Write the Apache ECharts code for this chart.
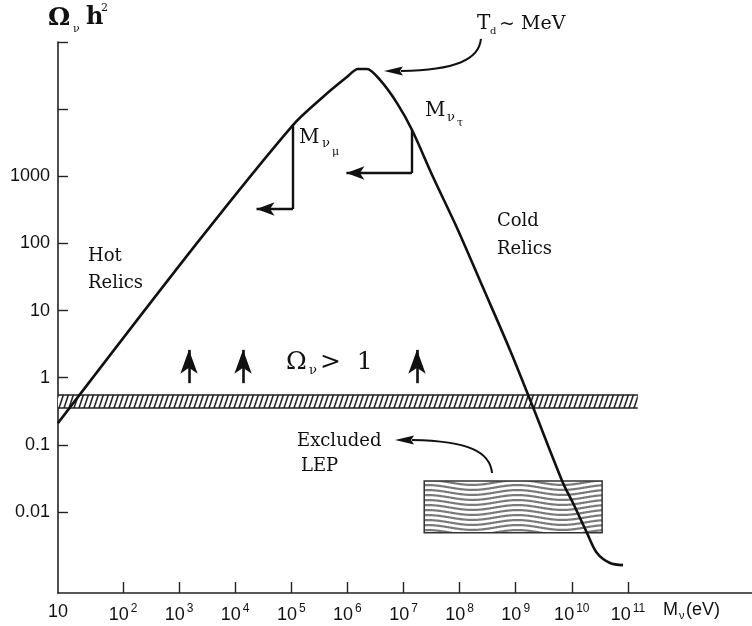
<!DOCTYPE html>
<html>
<head>
<meta charset="utf-8">
<script src="https://cdn.jsdelivr.net/npm/echarts@6/dist/echarts.min.js"></script>
<style>
  html, body { margin: 0; padding: 0; background: #fff; }
  #chart { width: 752px; height: 626px; }
</style>
</head>
<body>
<div id="chart"></div>
<script>
// Relic neutrino density Ω_ν h² against neutrino mass, both on log scales.

// Relic density curve: mass in eV and Ω h²
const massEV  = [6.9, 2.08e3, 1.07e5, 3.67e5, 9.8e5, 1.55e6, 2.23e6, 3.81e6, 7.66e6, 1.42e7,
                 3.36e7, 9.0e7, 2.61e8, 7.9e8, 2.03e9, 6.97e9, 1.05e10, 1.87e10, 2.81e10, 4.8e10, 8.2e10];
const omegaH2 = [0.21, 101, 5800, 1.52e4, 3.01e4, 3.96e4, 3.96e4, 2.72e4, 1.23e4, 4890,
                 975, 170, 22, 2.59, 0.366, 0.027, 0.0136, 0.00486, 0.00245, 0.00174, 0.00162];

// Axis ticks (decade exponents) and labels
const xTickExp    = [2, 3, 4, 5, 6, 7, 8, 9, 10, 11];
const xOriginText = '10';
const yTickExp    = [-2, -1, 0, 1, 2, 3, 4, 5];
const yLabelExp   = [-2, -1, 0, 1, 2, 3];
const yLabelText  = ['0.01', '0.1', '1', '10', '100', '1000'];

// Ω h² closure band and its mass extent
const closureBand   = [0.354, 0.56];
const closureMassHi = 1.5e11;

// "Ω_ν > 1" arrows: masses, foot and head of each arrow
const upArrowMass = [1.5e3, 1.38e4, 1.74e7];
const upArrowFrom = 0.83;
const upArrowTo   = 2.6;

// Mass bounds: point on the curve, corner level, arrow head mass
const numuBound  = { mass: 1.07e5, top: 5800, corner: 326,  head: 2.4e4 };
const nutauBound = { mass: 1.42e7, top: 4890, corner: 1120, head: 9.6e5 };

// LEP excluded region
const lepMass  = [2.34e7, 3.47e10];
const lepOmega = [0.0049, 0.029];

// Curved pointers: start, control 1, control 2, end of shaft, tip (mass, Ω h²)
const tdPointer  = [[2.40e8, 1.11e5], [2.22e8, 5.4e4], [8.3e7, 3.83e4], [9.0e6, 3.7e4], [4.49e6, 3.7e4]];
const lepPointer = [[3.79e8, 0.0381], [3.48e8, 0.078], [1.53e8, 0.114], [1.42e7, 0.118], [7.05e6, 0.118]];

const X_MIN = 0.8414, X_MAX = 13.212;
const Y_MIN = -3.206, Y_MAX = 5;

const L = Math.log10;
const pt = (m, o) => [L(m), L(o)];
const INK = '#111';
const SANS = '"Liberation Sans", Arial, sans-serif';
const SERIF = '"DejaVu Serif", serif';

function hatchPattern() {
  const w = 5, h = 15;
  const c = document.createElement('canvas');
  c.width = w; c.height = h;
  const g = c.getContext('2d');
  g.fillStyle = '#fff'; g.fillRect(0, 0, w, h);
  g.strokeStyle = '#222'; g.lineWidth = 1.6;
  for (let k = -1; k <= 1; k++) {
    g.beginPath(); g.moveTo(k * w, h); g.lineTo(k * w + w, 0); g.stroke();
  }
  return c;
}

function wavePattern() {
  const w = 90, h = 5;
  const c = document.createElement('canvas');
  c.width = w; c.height = h;
  const g = c.getContext('2d');
  g.fillStyle = '#fff'; g.fillRect(0, 0, w, h);
  g.strokeStyle = '#7a7a7a'; g.lineWidth = 2.2;
  for (let k = -1; k <= 2; k++) {
    g.beginPath();
    for (let x = 0; x <= w; x++) {
      const y = k * h + 2.5 + 2.4 * Math.sin(2 * Math.PI * x / w);
      if (x === 0) g.moveTo(x, y); else g.lineTo(x, y);
    }
    g.stroke();
  }
  return c;
}

const chart = echarts.init(document.getElementById('chart'));

const seg = (a, b) => [{ coord: a }, { coord: b }];

const option = {
  animation: false,
  backgroundColor: '#fff',
  grid: { left: 58, right: 0, top: 42, bottom: 33 },
  xAxis: {
    type: 'value', min: X_MIN, max: X_MAX,
    splitLine: { show: false },
    axisLine: { show: true, onZero: false, lineStyle: { color: '#222', width: 1.6 } },
    axisTick: { show: true, inside: true, length: 11, customValues: xTickExp, lineStyle: { color: '#222', width: 1.4 } },
    axisLabel: {
      customValues: [X_MIN].concat(xTickExp),
      margin: 10, color: INK, fontSize: 18, fontFamily: SANS,
      formatter: v => (v < 1.5 ? xOriginText : '10{s|' + Math.round(v) + '}'),
      rich: { s: { fontSize: 12, fontFamily: SANS, color: INK, verticalAlign: 'top', padding: [0, 0, 12, 2] } }
    }
  },
  yAxis: {
    type: 'value', min: Y_MIN, max: Y_MAX,
    splitLine: { show: false },
    axisLine: { show: true, onZero: false, lineStyle: { color: '#222', width: 1.6 } },
    axisTick: { show: true, inside: true, length: 10, customValues: yTickExp, lineStyle: { color: '#222', width: 1.4 } },
    axisLabel: {
      customValues: yLabelExp,
      margin: 8, color: INK, fontSize: 18, fontFamily: SANS,
      formatter: v => yLabelText[yLabelExp.indexOf(Math.round(v))]
    }
  },
  series: [
    {
      name: 'Ωh²', type: 'line', z: 5,
      data: massEV.map((m, i) => pt(m, omegaH2[i])),
      showSymbol: false, smooth: 0.3,
      lineStyle: { color: INK, width: 2.6 },
      emphasis: { disabled: true }
    },
    {
      name: 'closure band', type: 'line', data: [], z: 2,
      markArea: {
        silent: true, label: { show: false },
        itemStyle: { color: { image: hatchPattern(), repeat: 'repeat' }, opacity: 1, borderWidth: 0 },
        data: [[{ coord: [X_MIN, L(closureBand[0])] }, { coord: [L(closureMassHi), L(closureBand[1])] }]]
      },
      markLine: {
        silent: true, symbol: ['none', 'none'], label: { show: false },
        lineStyle: { color: '#222', width: 1.5, type: 'solid' },
        data: [
          seg([X_MIN, L(closureBand[0])], [L(closureMassHi), L(closureBand[0])]),
          seg([X_MIN, L(closureBand[1])], [L(closureMassHi), L(closureBand[1])])
        ]
      }
    },
    {
      name: 'LEP excluded', type: 'line', data: [], z: 2,
      markArea: {
        silent: true, label: { show: false },
        itemStyle: { color: { image: wavePattern(), repeat: 'repeat' }, opacity: 1, borderColor: '#333', borderWidth: 1.5 },
        data: [[{ coord: [L(lepMass[0]), L(lepOmega[0])] }, { coord: [L(lepMass[1]), L(lepOmega[1])] }]]
      }
    },
    {
      name: 'bounds', type: 'line', data: [], z: 4,
      markLine: {
        silent: true, symbol: ['none', 'none'], label: { show: false },
        lineStyle: { color: INK, width: 2.4, type: 'solid' },
        data: [
          seg(pt(numuBound.mass, numuBound.top), pt(numuBound.mass, numuBound.corner)),
          seg(pt(nutauBound.mass, nutauBound.top), pt(nutauBound.mass, nutauBound.corner))
        ]
      }
    },
    {
      name: 'bound arrows', type: 'line', data: [], z: 4,
      markLine: {
        silent: true, symbol: ['none', 'arrow'], symbolSize: [10, 18], label: { show: false },
        lineStyle: { color: INK, width: 2.4, type: 'solid' }, itemStyle: { color: INK },
        data: [
          seg(pt(numuBound.mass, numuBound.corner), pt(numuBound.head, numuBound.corner)),
          seg(pt(nutauBound.mass, nutauBound.corner), pt(nutauBound.head, nutauBound.corner))
        ]
      }
    },
    {
      name: 'overclosure arrows', type: 'line', data: [], z: 4,
      markLine: {
        silent: true, symbol: ['none', 'arrow'], symbolSize: [13, 24], label: { show: false },
        lineStyle: { color: INK, width: 2.6, type: 'solid' }, itemStyle: { color: INK },
        data: upArrowMass.map(m => seg(pt(m, upArrowFrom), pt(m, upArrowTo)))
      }
    }
  ]
};

chart.setOption(option);

const px = p => chart.convertToPixel({ gridIndex: 0 }, pt(p[0], p[1]));

function pointer(path) {
  const [s, c1, c2, e, tip] = path.map(px);
  return [
    { type: 'bezierCurve', silent: true, z: 10,
      shape: { x1: s[0], y1: s[1], cpx1: c1[0], cpy1: c1[1], cpx2: c2[0], cpy2: c2[1], x2: e[0], y2: e[1] },
      style: { stroke: INK, lineWidth: 2, fill: null } },
    { type: 'polygon', silent: true, z: 10,
      shape: { points: [[tip[0], tip[1]], [e[0] + 2, e[1] - 4.5], [e[0] - 1, e[1]], [e[0] + 2, e[1] + 4.5]] },
      style: { fill: INK } }
  ];
}

function txt(x, y, s, font, align) {
  return { type: 'text', silent: true, z: 20,
    style: { x: x, y: y, text: s, font: font, fill: INK, textAlign: align || 'left', textVerticalAlign: 'middle' } };
}

const graphics = [].concat(
  pointer(tdPointer),
  pointer(lepPointer),
  [
    // y axis title
    txt(48, 18, 'Ω', 'bold 25px ' + SERIF),
    txt(73, 29, 'ν', '11px ' + SERIF),
    txt(86, 18, 'h', 'bold 24px ' + SERIF),
    txt(101, 8, '2', '11px ' + SERIF),
    // x axis title
    txt(663, 610, 'M', '18px ' + SANS),
    txt(679, 616, 'ν', '11px ' + SANS),
    txt(686, 610, '(eV)', '18px ' + SANS),
    // annotations
    txt(477, 24, 'T', '20px ' + SERIF),
    txt(490, 31, 'd', '10px ' + SERIF),
    txt(499, 24, '~ MeV', '19px ' + SERIF),
    txt(299, 138, 'M', '20px ' + SERIF),
    txt(322, 144, 'ν', '13px ' + SERIF),
    txt(332, 152, 'μ', '11px ' + SERIF),
    txt(425, 111, 'M', '20px ' + SERIF),
    txt(447, 118, 'ν', '13px ' + SERIF),
    txt(457, 123, 'τ', '11px ' + SERIF),
    txt(88, 256, 'Hot', '18px ' + SERIF),
    txt(88, 283, 'Relics', '18px ' + SERIF),
    txt(497, 221, 'Cold', '18px ' + SERIF),
    txt(497, 249, 'Relics', '18px ' + SERIF),
    txt(286, 362, 'Ω', '25px ' + SERIF),
    txt(309, 371, 'ν', '13px ' + SERIF),
    txt(320, 362, '>  1', '25px ' + SERIF),
    txt(297, 441, 'Excluded', '18px ' + SERIF),
    txt(301, 466, 'LEP', '18px ' + SERIF)
  ]
);

chart.setOption({ graphic: graphics });
</script>
</body>
</html>
